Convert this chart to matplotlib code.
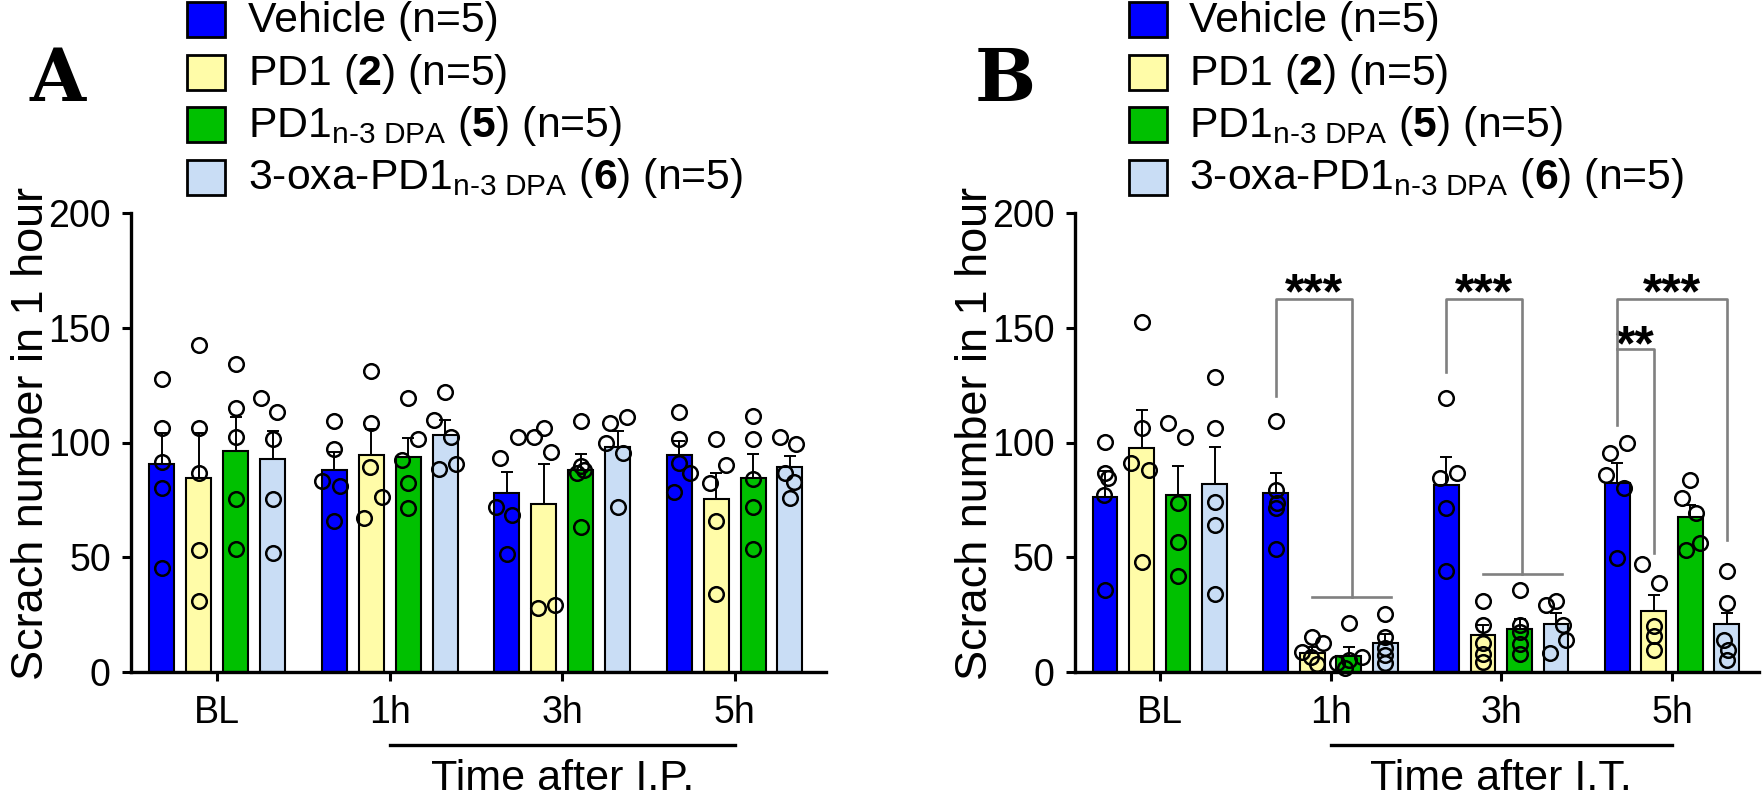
import matplotlib
matplotlib.use('Agg')
import matplotlib.pyplot as plt
import numpy as np
from matplotlib.patches import Rectangle

plt.rcParams['font.family'] = ['Liberation Sans', 'DejaVu Sans']
plt.rcParams['mathtext.fontset'] = 'custom'
plt.rcParams['mathtext.rm'] = 'Liberation Sans'
plt.rcParams['mathtext.it'] = 'Liberation Sans:italic'
plt.rcParams['mathtext.bf'] = 'Liberation Sans:bold'

# ---------------- data ----------------
time_labels = ['BL', '1h', '3h', '5h']
series_labels = ['Vehicle (n=5)',
                 r'PD1 ($\mathbf{2}$) (n=5)',
                 'PD1$_{\\mathregular{n\u20103\\ DPA}}$ ($\\mathbf{5}$) (n=5)',
                 '3-oxa-PD1$_{\\mathregular{n\u20103\\ DPA}}$ ($\\mathbf{6}$) (n=5)']
series_colors = ['#0000FF', '#FFFCA8', '#00C000', '#C9DDF5']

# Panel A (I.P.)
a_means = [[90.5, 88.0, 77.8, 94.5],
           [84.4, 94.5, 73.2, 75.2],
           [96.4, 93.8, 88.0, 84.7],
           [92.7, 103.3, 98.2, 89.2]]
a_sems = [[13.7, 8.0, 9.2, 6.0],
          [19.6, 11.5, 17.4, 11.6],
          [14.6, 8.2, 7.0, 10.5],
          [12.5, 6.3, 7.0, 5.0]]
a_points = [
    [[127.6, 106.2, 91.6, 80.0, 45.4], [109.5, 97.0, 83.3, 81.0, 65.9],
     [93.4, 102.5, 72.0, 68.4, 51.6], [113.5, 101.4, 90.9, 86.5, 78.5]],
    [[142.3, 106.2, 86.5, 53.1, 31.0], [131.3, 108.4, 89.2, 76.1, 67.2],
     [102.5, 106.2, 96.0, 27.9, 29.4], [101.4, 90.2, 82.2, 65.9, 34.2]],
    [[134.3, 115.2, 102.5, 75.2, 53.4], [119.3, 101.4, 92.4, 82.2, 71.3],
     [109.5, 89.7, 88.0, 86.5, 63.3], [111.6, 101.4, 83.9, 72.0, 53.4]],
    [[119.6, 113.2, 101.4, 75.2, 51.9], [122.2, 109.8, 102.5, 88.3, 90.5],
     [108.4, 111.3, 99.6, 95.6, 72.0], [102.3, 99.2, 86.5, 82.9, 75.6]]]
a_jitter = [
    [[0, 0, 0, 0, 0], [0, 0, -0.07, 0.035, 0], [-0.04, 0.065, -0.065, 0.033, 0], [0, 0, 0, 0.06, -0.03]],
    [[0, 0, 0, 0, 0], [0, 0, -0.01, 0.06, -0.04], [-0.055, 0, 0.042, -0.033, 0.065], [0, 0.06, -0.033, 0, 0]],
    [[0, 0, 0, 0, 0], [0, 0.056, -0.033, 0, 0], [0, 0, 0.02, -0.02, 0], [0, 0, 0, 0, 0]],
    [[-0.065, 0.026, 0, 0, 0], [0, -0.065, 0.033, -0.033, 0.065], [-0.042, 0.056, -0.065, 0.033, 0],
     [-0.06, 0.033, -0.026, 0.023, 0]]]

# Panel B (I.T.)
b_means = [[76.4, 78.1, 81.5, 82.5],
           [97.5, 8.3, 16.0, 26.6],
           [77.1, 7.0, 18.9, 67.6],
           [81.9, 12.6, 21.1, 21.1]]
b_sems = [[11.0, 8.7, 12.0, 8.4],
          [16.7, 2.5, 4.5, 7.1],
          [12.6, 4.0, 4.0, 5.1],
          [16.3, 4.0, 4.5, 4.6]]
b_points = [
    [[100.4, 86.5, 84.4, 77.0, 35.6], [109.5, 79.3, 73.7, 71.3, 53.8],
     [119.3, 84.4, 86.5, 71.3, 44.1], [95.6, 99.6, 85.8, 80.0, 49.5]],
    [[152.7, 106.2, 90.9, 88.0, 48.0], [15.2, 12.6, 8.7, 6.6, 3.5],
     [31.0, 20.4, 12.7, 8.0, 4.4], [47.0, 38.8, 19.9, 15.6, 9.7]],
    [[108.4, 102.3, 73.5, 56.7, 41.7], [21.3, 6.6, 5.2, 3.9, 1.7],
     [35.9, 20.4, 17.5, 12.4, 8.0], [83.6, 75.6, 69.1, 53.1, 56.0]],
    [[128.4, 106.2, 74.2, 64.0, 34.2], [25.3, 15.3, 10.4, 7.4, 4.0],
     [29.1, 31.0, 20.4, 14.1, 8.3], [44.1, 30.1, 13.8, 9.5, 5.1]]]
b_jitter = [
    [[0, 0, 0.016, -0.007, 0], [0, 0, 0.01, 0, 0], [0, -0.04, 0.06, 0, 0], [-0.04, 0.06, -0.066, 0.04, 0]],
    [[0, 0, -0.06, 0.043, 0], [0, 0.06, -0.06, -0.01, 0.03], [0, 0, 0, 0, 0], [-0.066, 0.033, 0, 0, 0]],
    [[-0.06, 0.043, 0, 0, 0], [0, 0.075, 0, -0.07, -0.025], [0, 0, 0, 0, 0], [0, -0.05, 0.033, -0.026, 0.06]],
    [[0, 0, 0, 0, 0], [0, 0, 0, 0, 0], [-0.056, 0, 0.043, 0.06, -0.033], [0, 0, -0.016, 0.01, 0]]]

# significance (panel B): vehicle vs treatments at 1h, 3h, 5h
sig_times = [1, 2, 3]
sig_top = [162.5, 162.5, 162.5]
sig_left_bottom = [120.3, 130.7, 107.6]
sig_right_bottom = [32.7, 42.6, 57.5]
sig_labels = ['***', '***', '***']
sig5_inner_top = 140.7
sig5_inner_bottom = 51.7
sig5_inner_label = '**'

# ---------------- figure ----------------
W, H = 1762, 802
fig = plt.figure(figsize=(W / 100, H / 100), dpi=100)

bar_offsets = [-0.321, -0.107, 0.107, 0.321]
bar_width = 0.145


def px_rect(x0, y0, x1, y1):
    return [x0 / W, 1 - y1 / H, (x1 - x0) / W, (y1 - y0) / H]


def draw_panel(ax, means, sems, points, jitter, xmax, xlabel):
    x = np.arange(len(time_labels))
    for i in range(4):
        xs = x + bar_offsets[i]
        ax.bar(xs, means[i], width=bar_width, color=series_colors[i],
               edgecolor='black', linewidth=1.5, zorder=2)
        ax.errorbar(xs, means[i], yerr=[np.zeros(4), sems[i]], fmt='none',
                    ecolor='black', elinewidth=1.4, capsize=4.3, capthick=1.4, zorder=1)
        for t in range(4):
            px = xs[t] + np.array(jitter[i][t])
            ax.plot(px, points[i][t], 'o', mfc='none', mec='black', ms=10.5,
                    mew=1.8, zorder=3, clip_on=False)
    ax.set_xlim(-0.5, xmax)
    ax.set_ylim(0, 200)
    ax.set_yticks([0, 50, 100, 150, 200])
    ax.set_xticks(x)
    ax.set_xticklabels(time_labels)
    for s in ['top', 'right']:
        ax.spines[s].set_visible(False)
    for s in ['left', 'bottom']:
        ax.spines[s].set_linewidth(2.4)
    ax.tick_params(axis='both', length=6.5, width=2.2, labelsize=27, direction='out')
    ax.tick_params(axis='y', pad=8)
    ax.tick_params(axis='x', pad=10)
    ax.set_ylabel('Scrach number in 1 hour', fontsize=32.5)
    ax.yaxis.set_label_coords(-0.114, 0.519)
    trans = ax.get_xaxis_transform()
    ax.plot([1, 3], [-0.159, -0.159], color='black', lw=2.4, transform=trans, clip_on=False)
    ax.text(2, -0.257, xlabel, transform=trans, ha='center', va='baseline', fontsize=31)


axA = fig.add_axes(px_rect(131, 213, 826, 672))
axB = fig.add_axes(px_rect(1074.5, 213, 1759, 672))
draw_panel(axA, a_means, a_sems, a_points, a_jitter, 3.53, 'Time after I.P.')
draw_panel(axB, b_means, b_sems, b_points, b_jitter, 3.51, 'Time after I.T.')

# significance brackets on panel B
gray = '#808080'
blw = 1.9
for t, top, lb, rb, lab in zip(sig_times, sig_top, sig_left_bottom, sig_right_bottom, sig_labels):
    xl = t + bar_offsets[0]
    if t < 3:
        low_l = t + bar_offsets[1]
        low_r = t + 0.355
        xr = (low_l + low_r) / 2
        axB.plot([low_l, low_r], [rb, rb], color=gray, lw=blw, zorder=4)
    else:
        xr = t + bar_offsets[3]
    axB.plot([xl, xl, xr, xr], [lb, top, top, rb], color=gray, lw=blw, zorder=4)
    axB.text((xl + xr) / 2, top - 4.0, lab, ha='center', va='baseline',
             fontsize=36, fontweight='bold')
# inner 5h bracket
xl = 3 + bar_offsets[0]
xr = 3 + bar_offsets[1]
axB.plot([xl, xr, xr], [sig5_inner_top, sig5_inner_top, sig5_inner_bottom], color=gray, lw=blw, zorder=4)
axB.text((xl + xr) / 2, sig5_inner_top - 5.0, sig5_inner_label, ha='center', va='baseline',
         fontsize=36, fontweight='bold')

# legends


def draw_legend(x_patch, x_text):
    row_centers = [19.5, 72, 124.5, 177]
    pw, ph = 38, 35
    for c, lab, yc in zip(series_colors, series_labels, row_centers):
        r = Rectangle((x_patch / W, 1 - (yc + ph / 2) / H), pw / W, ph / H,
                      transform=fig.transFigure, facecolor=c, edgecolor='black', lw=2.0)
        fig.add_artist(r)
        fig.text(x_text / W, 1 - (yc + 12.5) / H, lab, ha='left', va='baseline', fontsize=30.8)


draw_legend(187, 248)
draw_legend(1129, 1189)

# panel letters
fig.text(58 / W, 1 - 101 / H, 'A', family='DejaVu Serif', fontweight='bold', fontsize=52,
         ha='center', va='baseline')
fig.text(1005 / W, 1 - 101 / H, 'B', family='DejaVu Serif', fontweight='bold', fontsize=52,
         ha='center', va='baseline')

fig.savefig('out.png', dpi=100)
